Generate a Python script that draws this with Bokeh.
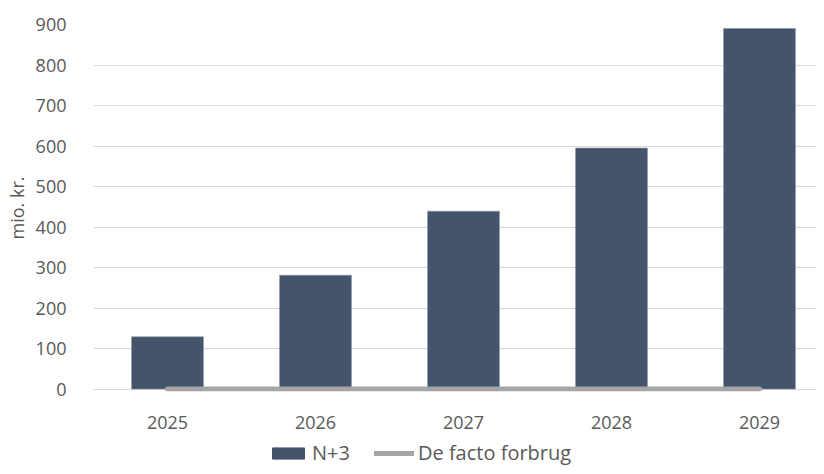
from bokeh.plotting import figure
from bokeh.layouts import column
from bokeh.models import ColumnDataSource, Range1d, Legend, LegendItem, FixedTicker
from bokeh.embed import file_html
from bokeh.resources import INLINE

years = ["2025", "2026", "2027", "2028", "2029"]
n3_values = [129, 281, 439, 595, 890]
de_facto_values = [0, 0, 0, 0, 0]
y_ticks = [0, 100, 200, 300, 400, 500, 600, 700, 800, 900]

FONT = "Open Sans"
TXT = "#595959"
BAR = "#44546A"
LINE = "#A5A5A5"

idx = list(range(len(years)))
src = ColumnDataSource(data=dict(x=idx, year=years, n3=n3_values, df=de_facto_values))

W = 816
H_MAIN, H_LEG = 436, 30
LEFT, TOP = 93, 24
BOTTOM = H_MAIN - 391
frame_w = W - LEFT
xr = Range1d(-0.5, -0.5 + frame_w / 148)

p = figure(width=W, height=H_MAIN, output_backend="svg", toolbar_location=None,
           x_range=xr, y_range=Range1d(-6, 900),
           min_border_left=LEFT, min_border_right=0, min_border_top=TOP,
           min_border_bottom=BOTTOM)
p.outline_line_color = None
p.background_fill_color = "white"
p.border_fill_color = "white"

bars = p.vbar(x="x", top="n3", bottom=0, width=0.486, source=src, fill_color=BAR,
              line_color="#8A96A8", line_width=0.6)
ln = p.line(x="x", y="df", source=src, line_color=LINE, line_width=5, line_cap="round")

p.xgrid.visible = False
p.ygrid.grid_line_color = "#D9D9D9"
p.ygrid.grid_line_width = 1.2

p.xaxis.ticker = FixedTicker(ticks=idx)
p.xaxis.major_label_overrides = {i: y for i, y in zip(idx, years)}
p.yaxis.ticker = FixedTicker(ticks=y_ticks)
for ax in (p.xaxis[0], p.yaxis[0]):
    ax.axis_line_color = None
    ax.major_tick_line_color = None
    ax.minor_tick_line_color = None
    ax.major_label_text_font = FONT
    ax.major_label_text_font_size = "18px"
    ax.major_label_text_color = TXT
p.xaxis.major_label_standoff = 18
p.yaxis.major_label_standoff = 21
p.yaxis.axis_label = "mio. kr."
p.yaxis.axis_label_text_font = FONT
p.yaxis.axis_label_text_font_size = "18px"
p.yaxis.axis_label_text_font_style = "normal"
p.yaxis.axis_label_text_color = TXT
p.yaxis.axis_label_standoff = 4

# legend strip below the chart (its frame is aligned with the main frame)
lf = figure(width=W, height=H_LEG, output_backend="svg", toolbar_location=None,
            x_range=Range1d(0, 1), y_range=Range1d(0, 1),
            x_axis_location=None, y_axis_location=None,
            min_border_left=LEFT, min_border_right=0, min_border_top=0, min_border_bottom=0)
lf.outline_line_color = None
lf.xgrid.visible = False
lf.ygrid.visible = False
leg_bar = lf.vbar(x="x", top="n3", width=0.486, source=src, fill_color=BAR,
                  line_color=BAR, visible=False)
leg_line = lf.line(x="x", y="df", source=src, line_color=LINE, line_width=5,
                   line_cap="round", visible=False)

legend = Legend(items=[LegendItem(label="N+3", renderers=[leg_bar]),
                       LegendItem(label="De facto forbrug", renderers=[leg_line])],
                orientation="horizontal", location=(175, 0),
                padding=0, margin=0, spacing=24, label_standoff=4,
                glyph_width=40, glyph_height=14,
                label_text_font=FONT, label_text_font_size="20px",
                label_text_color=TXT, border_line_color=None,
                background_fill_alpha=0, inactive_fill_alpha=0)
lf.add_layout(legend, "center")

layout = column(p, lf, spacing=0)
open("out.html", "w").write(file_html(layout, INLINE))
